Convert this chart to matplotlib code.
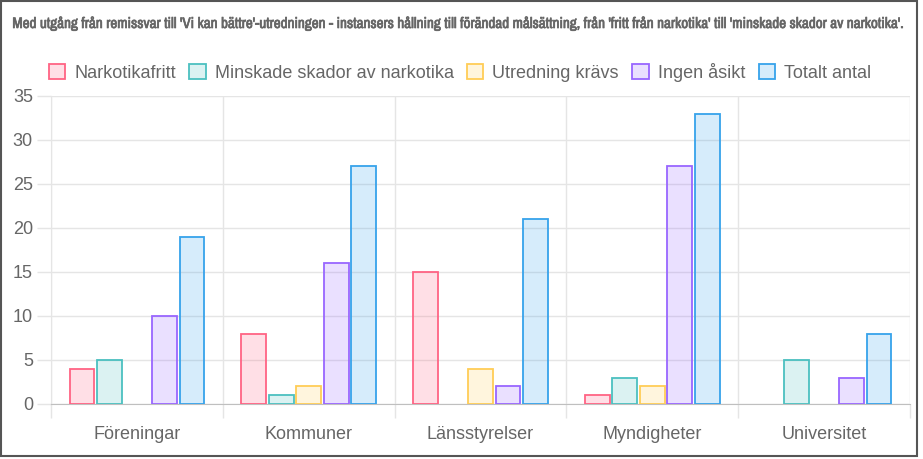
import matplotlib
matplotlib.use('Agg')
from matplotlib import pyplot as plt
from matplotlib import font_manager
from matplotlib import patheffects
from matplotlib.patches import Rectangle
from matplotlib.ticker import FixedLocator
import numpy as np

categories = ['Föreningar', 'Kommuner', 'Länsstyrelser', 'Myndigheter', 'Universitet']
series_names = ['Narkotikafritt', 'Minskade skador av narkotika', 'Utredning krävs', 'Ingen åsikt', 'Totalt antal']
narkotikafritt = [4, 8, 15, 1, 0]
minskade = [5, 1, 0, 3, 5]
utredning = [0, 2, 4, 2, 0]
ingen_asikt = [10, 16, 2, 27, 3]
totalt = [19, 27, 21, 33, 8]
title = ("Med utgång från remissvar till 'Vi kan bättre'-utredningen - instansers hållning till förändad "
         "målsättning, från 'fritt från narkotika' till 'minskade skador av narkotika'.")

colors = [(255, 99, 132), (75, 192, 192), (255, 205, 86), (153, 102, 255), (54, 162, 235)]
colors = [tuple(c / 255 for c in col) for col in colors]
series = [narkotikafritt, minskade, utredning, ingen_asikt, totalt]

plt.rcParams['font.family'] = ['Liberation Sans', 'DejaVu Sans']
txt = '#666666'
grid = '#e5e5e5'

# title in the original is a narrow bold face; use one if installed
narrow = sorted(set(f.name for f in font_manager.fontManager.ttflist
                    if 'narrow' in f.name.lower() or 'condensed' in f.name.lower()))
title_font = narrow[0] if narrow else 'Roboto'

fig = plt.figure(figsize=(9.23, 4.59), dpi=100)
ax = fig.add_axes([51 / 923, 55 / 459, 859 / 923, 308 / 459])

x = np.arange(len(categories))
slot = 0.8 / len(series)
for i, (vals, col, name) in enumerate(zip(series, colors, series_names)):
    pos = x - 0.4 + slot * (i + 0.5)
    vals = np.array(vals, dtype=float)
    keep = vals > 0
    ax.bar(pos[keep], vals[keep], width=slot * 0.9, color=col + (0.2,),
           edgecolor=col, linewidth=1.3, zorder=3)
    ax.bar([np.nan], [np.nan], color=col + (0.2,), edgecolor=col, linewidth=1.3, label=name)

ax.set_xlim(-0.5, len(categories) - 0.5)
ax.set_ylim(0, 35)
ax.set_yticks(range(0, 36, 5))
ax.set_xticks(x)
ax.set_xticklabels(categories)
ax.xaxis.set_minor_locator(FixedLocator(np.arange(-0.5, len(categories), 1)))
ax.grid(True, axis='y', color=grid, linewidth=1, zorder=0)
ax.grid(True, axis='x', which='minor', color=grid, linewidth=1, zorder=0)
ax.tick_params(axis='x', which='major', length=0, labelsize=13, labelcolor=txt, pad=16)
ax.tick_params(axis='x', which='minor', length=10, color=grid, width=1)
ax.tick_params(axis='y', length=10, color=grid, width=1, labelsize=13, labelcolor=txt, pad=3)
for s in ['top', 'right']:
    ax.spines[s].set_visible(False)
ax.spines['left'].set_color(grid)
ax.spines['bottom'].set_color('#bfbfbf')

t = fig.text(459 / 923, 1 - 24 / 459, title, ha='center', va='center', fontsize=10,
             fontweight='bold', color=txt, family=[title_font, 'DejaVu Sans'],
             path_effects=[patheffects.withStroke(linewidth=0.5, foreground=txt)])
fig.canvas.draw()
w = t.get_window_extent().width
t.set_fontsize(10 * 897 / w)

fig.legend(loc='center', bbox_to_anchor=(460 / 923, 1 - 72 / 459), ncol=5, frameon=False,
           fontsize=13, labelcolor=txt, handlelength=0.9, handleheight=0.95,
           handletextpad=0.5, columnspacing=0.75)

fig.patches.append(Rectangle((0.001, 0.006), 0.993, 0.992, transform=fig.transFigure,
                             fill=False, edgecolor='#555555', linewidth=1.5))

fig.savefig('out.png', dpi=100)
